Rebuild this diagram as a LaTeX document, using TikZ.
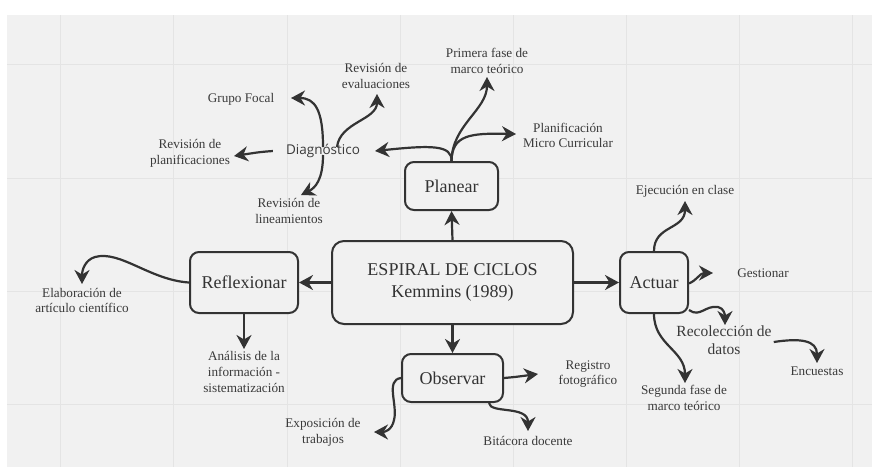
\documentclass[tikz,border=0pt]{standalone}
\usepackage{fontspec}
\setmainfont{Liberation Serif}
\newfontfamily\diagsans{Open Sans}
\usetikzlibrary{arrows.meta}
\definecolor{bgc}{HTML}{F1F1F1}
\definecolor{gridc}{HTML}{E4E4E4}
\definecolor{ink}{HTML}{333333}
\definecolor{txt}{HTML}{3A3A3A}
\tikzset{
  box/.style={draw=ink, line width=2pt, rounded corners=9pt, fill=bgc, text=ink,
    font=\rmfamily\fontsize{18}{22}\selectfont, align=center, inner sep=0pt},
  lbl/.style={text=txt, font=\rmfamily\fontsize{13.2}{15.8}\selectfont, align=center, inner sep=0pt},
  con/.style={draw=ink, line width=2.2pt, -{Stealth[length=14pt,width=15pt,inset=4.5pt]}},
}
\begin{document}
\begin{tikzpicture}[x=1pt,y=-1pt]
\useasboundingbox (0,0) rectangle (872,467);
\fill[white] (0,0) rectangle (872,467);
\fill[bgc] (7,15) rectangle (872,467);
\foreach \gx in {60,173,287,400,513,626,739,852}
  \draw[gridc, line width=1pt] (\gx,15) -- (\gx,467);
\foreach \gy in {64,178,291,404}
  \draw[gridc, line width=1pt] (7,\gy) -- (872,\gy);

% main nodes
\node[box, minimum width=241pt, minimum height=83pt, rounded corners=12pt] (main) at (452.5,282.5)
  {ESPIRAL DE CICLOS\\Kemmins (1989)};
\node[box, minimum width=93pt, minimum height=48pt] (plan) at (451.5,186) {Planear};
\node[box, minimum width=68pt, minimum height=61pt] (act) at (654,282.5) {Actuar};
\node[box, minimum width=108pt, minimum height=61pt] (refl) at (244,282.5) {Reflexionar};
\node[box, minimum width=101pt, minimum height=48pt] (obs) at (452.5,378) {Observar};

% labels
\node[text=txt, font=\diagsans\fontsize{13.5}{16}\selectfont, inner sep=0pt] (diag) at (323,151) {Diagnóstico};
\node[lbl] (gf) at (241,99) {Grupo Focal};
\node[lbl] (rev) at (376,76) {Revisión de\\evaluaciones};
\node[lbl] (pf) at (487,61) {Primera fase de\\marco teórico};
\node[lbl] (pmc) at (568,135.5) {Planificación\\Micro Curricular};
\node[lbl] (rp) at (190,153.5) {Revisión de\\planificaciones};
\node[lbl] (rl) at (289,211) {Revisión de\\lineamientos};
\node[lbl] (ej) at (685,191) {Ejecución en clase};
\node[lbl] (ges) at (763,273) {Gestionar};
\node[text=txt, font=\rmfamily\fontsize{15.5}{18}\selectfont, align=center, inner sep=0pt] (rec) at (724,340) {Recolección de\\datos};
\node[lbl] (sf) at (684,398) {Segunda fase de\\marco teórico};
\node[lbl] (enc) at (817,371) {Encuestas};
\node[lbl] (rf) at (588,374) {Registro\\fotográfico};
\node[lbl] (bit) at (528,441) {Bitácora docente};
\node[lbl] (exp) at (323,432) {Exposición de\\trabajos};
\node[lbl] (ela) at (82,300.5) {Elaboración de\\artículo científico};
\node[lbl] (ana) at (244,372) {Análisis de la\\información -\\sistematización};

% arrow tip coordinates
\coordinate (tDiag) at (375,151);
\coordinate (tPf) at (487,77);
\coordinate (tPmc) at (516,134);
\coordinate (tGf) at (291,98);
\coordinate (tRev) at (377,94);
\coordinate (tRp) at (234,156);
\coordinate (tRl) at (301,195);
\coordinate (tEj) at (685,201);
\coordinate (tGes) at (713,273);
\coordinate (tRec) at (725,325);
\coordinate (tSf) at (685,383);
\coordinate (tEnc) at (817,363);
\coordinate (tRf) at (538,374);
\coordinate (tBit) at (528,431);
\coordinate (tExp) at (374,432);
\coordinate (tEla) at (82,284);
\coordinate (tAna) at (244,349);

% centre connectors
\draw[con] (main.north) -- (plan.south);
\draw[con] (main.west) -- (refl.east);
\draw[con] (main.east) -- (act.west);
\draw[con] (main.south) -- (obs.north);

% Planear
\draw[con] (plan.north) .. controls (452,145) and (432,145) .. (tDiag);
\draw[con] (plan.north) .. controls (452,125) and (487,110) .. (tPf);
\draw[con] (plan.north) .. controls (452,135) and (470,133) .. (tPmc);

% Diagnóstico
\draw[con] ([yshift=-3pt]diag.north) .. controls (323,110) and (315,98) .. (tGf);
\draw[con] ([xshift=14pt,yshift=-3pt]diag.north) .. controls (340,122) and (377,120) .. (tRev);
\draw[con] ([xshift=-13pt]diag.west) .. controls (260,152) .. (tRp);
\draw[con] ([yshift=3pt]diag.south) .. controls (323,180) and (315,188) .. (tRl);

% Actuar
\draw[con] (act.north) .. controls (654,225) and (685,230) .. (tEj);
\draw[con] ([yshift=-1pt]act.east) .. controls (697,280) and (700,273) .. (tGes);
\draw[con] ([yshift=4pt]act.south east) .. controls (700,318) and (705,305) .. (718,307) .. controls (724,308) and (725,315) .. (tRec);
\draw[con] (act.south) .. controls (654,345) and (685,350) .. (tSf);
\draw[con] ([xshift=2pt]rec.east |- 0,342) .. controls (800,338) and (817,340) .. (tEnc);

% Observar
\draw[con] (obs.east) .. controls (515,377) .. (tRf);
\draw[con] ([xshift=-15pt]obs.south east) .. controls (490,414) and (528,405) .. (tBit);
\draw[con] (obs.west) .. controls (385,380) and (398,405) .. (394,420) .. controls (392,430) and (385,432) .. (tExp);

% Reflexionar
\draw[con] (refl.west) .. controls (150,280) and (120,250) .. (95,257) .. controls (85,260) and (82,270) .. (tEla);
\draw[con] (refl.south) -- (tAna);
\end{tikzpicture}
\end{document}
